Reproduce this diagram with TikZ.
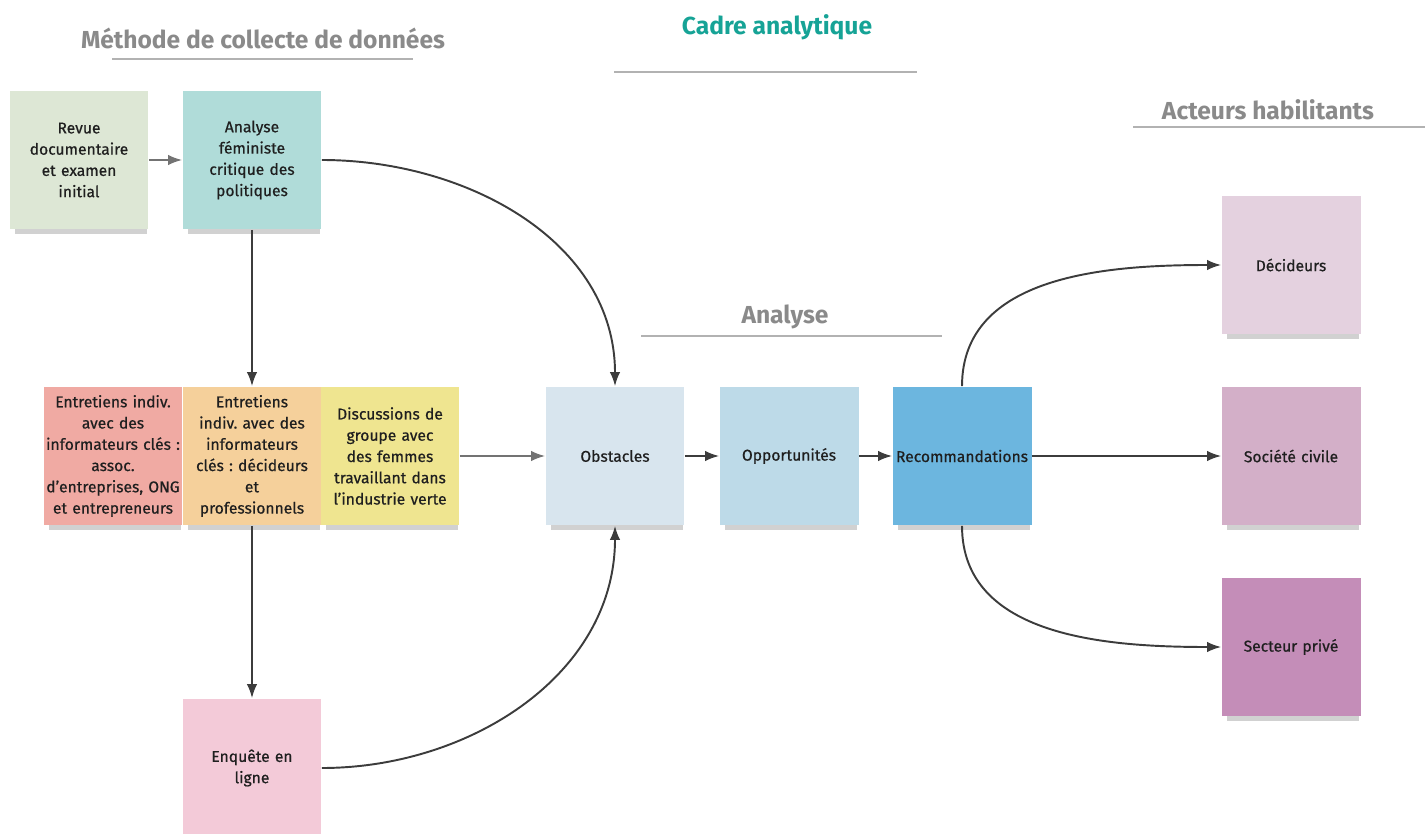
\documentclass[tikz,border=0pt]{standalone}
\usepackage{fontspec}
\setmainfont{Fira Sans}
\newfontfamily\boitefont{Fira Sans}[FakeBold=0.6]
\usepackage{tikz}
\usetikzlibrary{arrows.meta}
\usetikzlibrary{shadows}
\frenchspacing

\definecolor{vertpale}{HTML}{DDE7D5}
\definecolor{turquoise}{HTML}{B0DCD9}
\definecolor{saumon}{HTML}{F0AAA3}
\definecolor{orangepale}{HTML}{F5D09B}
\definecolor{jaunepale}{HTML}{EFE590}
\definecolor{bleuclair}{HTML}{D8E5EE}
\definecolor{bleumoyen}{HTML}{BDDAE8}
\definecolor{bleufonce}{HTML}{6CB6DF}
\definecolor{rosepale}{HTML}{E4D1DF}
\definecolor{mauve}{HTML}{D3AFC8}
\definecolor{violet}{HTML}{C48DB8}
\definecolor{rose}{HTML}{F3CAD8}
\definecolor{sarcelle}{HTML}{16A396}
\definecolor{grisitre}{HTML}{8A8A8A}
\definecolor{trait}{HTML}{3C3C3C}

\begin{document}
\begin{tikzpicture}[x=0.02cm,y=0.02cm,
  boite/.style={rectangle, minimum width=2.78cm, minimum height=2.78cm,
    text width=2.76cm, align=center, inner sep=0pt, text=black!88,
    font=\boitefont\fontsize{8.9}{12.1}\selectfont,
    drop shadow={shadow xshift=1pt, shadow yshift=-5pt, shadow scale=0.95,
      opacity=0.3, fill=black!60}},
  titre/.style={font=\fontsize{14}{16}\selectfont\bfseries, text=grisitre},
  souligne/.style={draw=black!30, line width=1.2pt},
  fleche/.style={draw=trait, line width=1.1pt, -{Latex[length=8pt,width=6pt]}},
  flechepale/.style={draw=black!55, line width=1.1pt, -{Latex[length=8pt,width=6pt]}}]

  \useasboundingbox (0,0) rectangle (1425,-834);

  % titres
  \node[titre] (methode) at (263,-38) {Méthode de collecte de données};
  \node[titre, text=sarcelle] (cadre) at (777,-27) {Cadre analytique};
  \node[titre] (acteurs) at (1268,-110) {Acteurs habilitants};
  \node[titre] (analysetitre) at (785,-317) {Analyse};

  \draw[souligne] (112,-59) -- (413,-59);
  \draw[souligne] (614,-72) -- (917,-72);
  \draw[souligne] (1133,-127) -- (1425,-127);
  \draw[souligne] (641,-336) -- (942,-336);

  % collecte de donnees
  \node[boite, fill=vertpale] (revue) at (79,-160) {Revue\\documentaire\\et examen\\initial};
  \node[boite, fill=turquoise] (feministe) at (252,-160) {Analyse\\féministe\\critique des\\politiques};

  \node[boite, fill=saumon] (entrassoc) at (113,-456) {Entretiens indiv.\\avec des\\informateurs clés :\\assoc.\\d’entreprises, ONG\\et entrepreneurs};
  \node[boite, fill=orangepale] (entrdecid) at (252,-456) {Entretiens\\indiv. avec des\\informateurs\\clés : décideurs\\et\\professionnels};
  \node[boite, fill=jaunepale] (groupe) at (390,-456) {Discussions de\\groupe avec\\des femmes\\travaillant dans\\l’industrie verte};

  \node[boite, fill=rose] (enquete) at (252,-768) {Enquête en\\ligne};

  % analyse
  \node[boite, fill=bleuclair] (obstacles) at (615,-456) {Obstacles};
  \node[boite, fill=bleumoyen] (opportunites) at (789,-456) {Opportunités};
  \node[boite, fill=bleufonce] (recomm) at (962,-456) {Recommandations};

  % acteurs
  \node[boite, fill=rosepale] (decideurs) at (1291,-265) {Décideurs};
  \node[boite, fill=mauve] (societe) at (1291,-456) {Société civile};
  \node[boite, fill=violet] (prive) at (1291,-647) {Secteur privé};

  % fleches
  \draw[flechepale] (revue) -- (feministe);
  \draw[fleche] (feministe) -- (entrdecid);
  \draw[fleche] (entrdecid) -- (enquete);
  \draw[fleche] (feministe.east) to[out=0, in=90] (obstacles.north);
  \draw[fleche] (enquete.east) to[out=0, in=-90] (obstacles.south);
  \draw[flechepale] (groupe) -- (obstacles);
  \draw[fleche] (obstacles) -- (opportunites);
  \draw[fleche] (opportunites) -- (recomm);
  \draw[fleche] (recomm) -- (societe);
  \draw[fleche] (recomm.north) to[out=90, in=180] (decideurs.west);
  \draw[fleche] (recomm.south) to[out=-90, in=180] (prive.west);

\end{tikzpicture}
\end{document}
